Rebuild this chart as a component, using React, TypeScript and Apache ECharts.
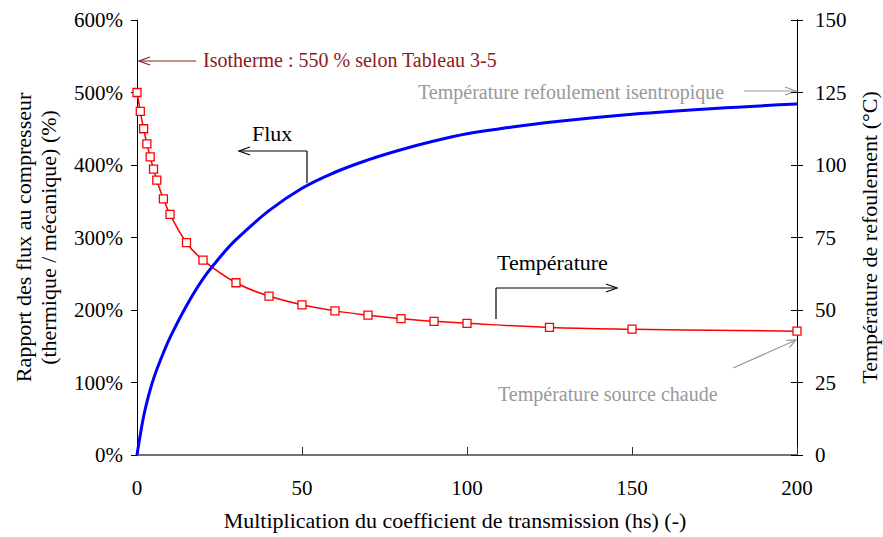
import React, { useEffect, useRef } from "react";
import * as echarts from "echarts";

const xFlux = [0, 1, 2, 3, 4, 5, 6, 8, 10, 15, 20, 25, 30, 40, 50, 60, 70, 80, 90, 100, 110, 125, 150, 175, 200];
const fluxRatio = [0, 28, 53, 73, 90, 105, 118, 141, 162, 206, 243, 272, 297, 337, 368, 390, 407, 421, 433, 443, 450, 459, 470, 478, 484];

const xTemp = [0, 1, 2, 3, 4, 5, 6, 8, 10, 15, 20, 30, 40, 50, 60, 70, 80, 90, 100, 125, 150, 200];
const temperature = [125, 118.5, 112.5, 107.3, 102.8, 98.6, 94.8, 88.3, 83, 73.2, 67.2, 59.4, 54.8, 51.8, 49.7, 48.2, 47.0, 46.1, 45.4, 44.0, 43.4, 42.7];

const xTicks = { min: 0, max: 200, interval: 50 };
const leftTicks = { min: 0, max: 600, interval: 100 };
const rightTicks = { min: 0, max: 150, interval: 25 };

const FONT = '"Liberation Serif", "Times New Roman", serif';

export default function App() {
  const ref = useRef<HTMLDivElement>(null);
  useEffect(() => {
    if (!ref.current) return;
    const chart = echarts.init(ref.current, null, { renderer: "svg" });
    const labelStyle = { color: "#000", fontSize: 21, fontFamily: FONT };
    const nameStyle = { color: "#000", fontSize: 22, fontFamily: FONT, lineHeight: 25 };
    const arrowHead = (pts: number[][], color: string) => ({
      type: "polyline",
      shape: { points: pts },
      style: { stroke: color, lineWidth: 1.2, fill: null },
      silent: true,
    });
    const seg = (x1: number, y1: number, x2: number, y2: number, color: string) => ({
      type: "line",
      shape: { x1, y1, x2, y2 },
      style: { stroke: color, lineWidth: 1.2 },
      silent: true,
    });
    const txt = (x: number, y: number, text: string, color: string, size: number) => ({
      type: "text",
      x,
      y,
      style: { text, fill: color, fontSize: size, fontFamily: FONT, verticalAlign: "middle", align: "left" },
      silent: true,
    });
    const darkRed = "#8B1A1A";
    const gray = "#999999";
    chart.setOption({
      animation: false,
      backgroundColor: "#fff",
      grid: { left: 137, right: 86, top: 20, bottom: 82, containLabel: false, outerBoundsMode: "none" },
      xAxis: {
        type: "value",
        ...xTicks,
        axisLine: { show: true, lineStyle: { color: "#444", width: 1.5 } },
        axisTick: { show: true, inside: true, length: 8, lineStyle: { color: "#333" } },
        axisLabel: { ...labelStyle, margin: 22 },
        splitLine: { show: false },
        name: "Multiplication du coefficient de transmission (hs) (-)",
        nameLocation: "middle",
        nameGap: 53,
        nameTextStyle: { ...nameStyle, padding: [0, 24, 0, 0] },
      },
      yAxis: [
        {
          type: "value",
          ...leftTicks,
          position: "left",
          axisLine: { show: true, lineStyle: { color: "#000", width: 1 } },
          axisTick: { show: true, inside: false, length: 6, lineStyle: { color: "#000" } },
          axisLabel: { ...labelStyle, margin: 14, formatter: "{value}%" },
          splitLine: { show: false },
          name: "Rapport des flux au compresseur\n(thermique / mécanique) (%)",
          nameLocation: "middle",
          nameRotate: 90,
          nameGap: 76,
          nameTextStyle: nameStyle,
        },
        {
          type: "value",
          ...rightTicks,
          position: "right",
          axisLine: { show: true, lineStyle: { color: "#000", width: 1 } },
          axisTick: { show: true, inside: false, length: 6, lineStyle: { color: "#000" } },
          axisLabel: { ...labelStyle, margin: 18 },
          splitLine: { show: false },
          name: "Température de refoulement (°C)",
          nameLocation: "middle",
          nameRotate: 90,
          nameGap: 59,
          nameTextStyle: nameStyle,
        },
        {
          type: "value",
          ...rightTicks,
          position: "right",
          axisLine: { show: true, lineStyle: { color: "#000", width: 1 } },
          axisTick: { show: true, inside: true, length: 6, lineStyle: { color: "#000" } },
          axisLabel: { show: false },
          splitLine: { show: false },
        },
      ],
      series: [
        {
          type: "line",
          name: "Température",
          yAxisIndex: 1,
          data: xTemp.map((x, i) => [x, temperature[i]]),
          smooth: 0.4,
          symbol: "rect",
          symbolSize: 8,
          showAllSymbol: true,
          lineStyle: { color: "#FF0000", width: 1.5 },
          itemStyle: { color: "#fff", borderColor: "#FF0000", borderWidth: 1.3 },
          z: 2,
        },
        {
          type: "line",
          name: "Flux",
          yAxisIndex: 0,
          data: xFlux.map((x, i) => [x, fluxRatio[i]]),
          smooth: 0.4,
          showSymbol: false,
          symbol: "none",
          lineStyle: { color: "#0000FF", width: 3 },
          z: 3,
        },
      ],
      graphic: [
        seg(139, 61, 196, 61, darkRed),
        arrowHead([[150, 57], [139, 61], [150, 65]], darkRed),
        txt(203, 60, "Isotherme : 550 % selon Tableau 3-5", darkRed, 20),
        txt(252, 133, "Flux", "#000", 22),
        seg(239, 151, 307, 151, "#000"),
        seg(307, 151, 307, 183, "#000"),
        arrowHead([[250, 147], [239, 151], [250, 155]], "#000"),
        txt(497, 262, "Température", "#000", 22),
        seg(496, 319, 496, 288, "#000"),
        seg(496, 288, 617, 288, "#000"),
        arrowHead([[606, 284], [617, 288], [606, 292]], "#000"),
        txt(418, 92, "Température refoulement isentropique", gray, 20),
        seg(744, 91, 796, 91, gray),
        arrowHead([[785, 87], [796, 91], [785, 95]], gray),
        txt(498, 394, "Température source chaude", gray, 20),
        seg(733, 368, 796, 340, gray),
        arrowHead([[789.4, 347.7], [796, 340], [786.2, 340.3]], gray),
      ],
    });
    return () => chart.dispose();
  }, []);
  return <div ref={ref} style={{ position: "absolute", left: 0, top: 0, width: 883, height: 537 }} />;
}
